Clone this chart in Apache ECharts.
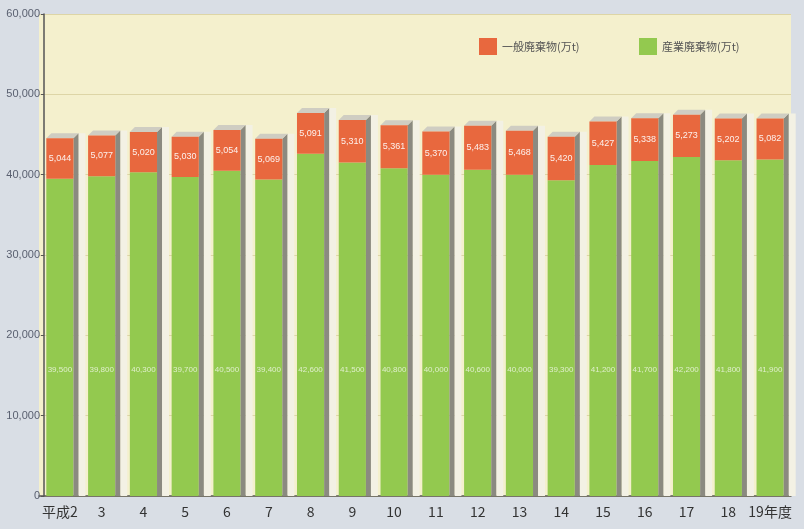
<!DOCTYPE html>
<html><head><meta charset="utf-8">
<script src="https://cdn.jsdelivr.net/npm/echarts@6/dist/echarts.min.js"></script>
<style>html,body{margin:0;padding:0;background:#d9dee5;}#c{width:804px;height:529px;}</style>
</head><body><div id="c"></div>
<script>
var categories = ['平成2','3','4','5','6','7','8','9','10','11','12','13','14','15','16','17','18','19年度'];
var industrial = [39500,39800,40300,39700,40500,39400,42600,41500,40800,40000,40600,40000,39300,41200,41700,42200,41800,41900];
var general = [5044,5077,5020,5030,5054,5069,5091,5310,5361,5370,5483,5468,5420,5427,5338,5273,5202,5082];
var yTicks = [0,10000,20000,30000,40000,50000,60000];
var seriesNames = ['一般廃棄物(万t)','産業廃棄物(万t)'];

var RED = '#e8683e', GREEN = '#93c94f';
var fam = "'Liberation Sans',sans-serif";
function fmt(v){return v.toString().replace(/\B(?=(\d{3})+(?!\d))/g, ',');}

var greenData = industrial.map(function(v,i){return [i, v];});
var redData = general.map(function(v,i){return [i, industrial[i], v];});

function geom(api, i){
  var w = api.size([1,0])[0];
  var bw = w*0.65;
  var p0 = api.coord([i,0]);
  return {bw:bw, x0:p0[0]-bw/2, yb:p0[1]};
}

var chart = echarts.init(document.getElementById('c'));
chart.setOption({
  backgroundColor:'#d9dee5',
  animation:false,
  grid:{left:39,right:13,top:14,bottom:33,show:true,backgroundColor:'#f4f0cd',borderWidth:0},
  legend:[
    {data:[seriesNames[0]],left:474,top:33,icon:'rect',itemWidth:18,itemHeight:17,textStyle:{fontSize:11,color:'#555',fontFamily:"'Noto Sans CJK JP',sans-serif"}},
    {data:[seriesNames[1]],left:634,top:33,icon:'rect',itemWidth:18,itemHeight:17,textStyle:{fontSize:11,color:'#555',fontFamily:"'Noto Sans CJK JP',sans-serif"}}
  ],
  xAxis:{type:'category',data:categories,
    axisLine:{lineStyle:{color:'#555',width:1.5}},
    axisTick:{inside:true,length:6,lineStyle:{color:'#777'}},
    axisLabel:{interval:0,fontSize:14,color:'#333',margin:9,fontFamily:"'Noto Sans CJK JP',sans-serif"}
  },
  yAxis:{type:'value',min:0,max:60000,interval:10000,offset:-5,
    axisLine:{show:true,lineStyle:{color:'#555',width:1.5}},
    axisTick:{show:true,length:3,lineStyle:{color:'#555'}},
    axisLabel:{fontSize:11,color:'#5a6070',margin:4,fontFamily:fam,
      formatter:function(v){return yTicks.indexOf(v)>=0?fmt(v):'';}},
    splitLine:{lineStyle:{color:'#ddd5a6',width:1}}
  },
  series:[
    {name:seriesNames[1],type:'custom',itemStyle:{color:GREEN},data:greenData,z:2,
      renderItem:function(params,api){
        var i=api.value(0), g=api.value(1);
        var G=geom(api,i);
        var pg=api.coord([i,g]);
        var pl=api.coord([i,15700]);
        return {type:'group',children:[
          {type:'rect',shape:{x:G.x0,y:pg[1],width:G.bw,height:G.yb-pg[1]},style:{fill:GREEN}},
          {type:'text',style:{text:fmt(g),x:G.x0+G.bw/2,y:pl[1],align:'center',verticalAlign:'middle',
            fill:'rgba(255,255,255,0.7)',font:'8px '+fam}}
        ]};
      }
    },
    {name:seriesNames[0],type:'custom',itemStyle:{color:RED},data:redData,z:3,
      renderItem:function(params,api){
        var i=api.value(0), g=api.value(1), r=api.value(2);
        var G=geom(api,i);
        var pg=api.coord([i,g]);
        var pt=api.coord([i,g+r]);
        var d=5, xr=G.x0+G.bw, top=pt[1];
        return {type:'group',children:[
          {type:'rect',shape:{x:xr+d,y:top-d,width:7,height:G.yb-top+d},style:{fill:'#f3f1e4'}},
          {type:'polygon',shape:{points:[[xr,top],[xr+d,top-d],[xr+d,G.yb],[xr,G.yb]]},style:{fill:'#8b8a80'}},
          {type:'polygon',shape:{points:[[G.x0,top],[G.x0+d,top-d],[xr+d,top-d],[xr,top]]},style:{fill:'#cfcdc2'}},
          {type:'rect',shape:{x:G.x0,y:top,width:G.bw,height:pg[1]-top},style:{fill:RED}},
          {type:'text',style:{text:fmt(r),x:G.x0+G.bw/2,y:(top+pg[1])/2,align:'center',verticalAlign:'middle',
            fill:'rgba(255,255,255,0.9)',font:'9px '+fam}}
        ]};
      }
    }
  ]
});
</script></body></html>
